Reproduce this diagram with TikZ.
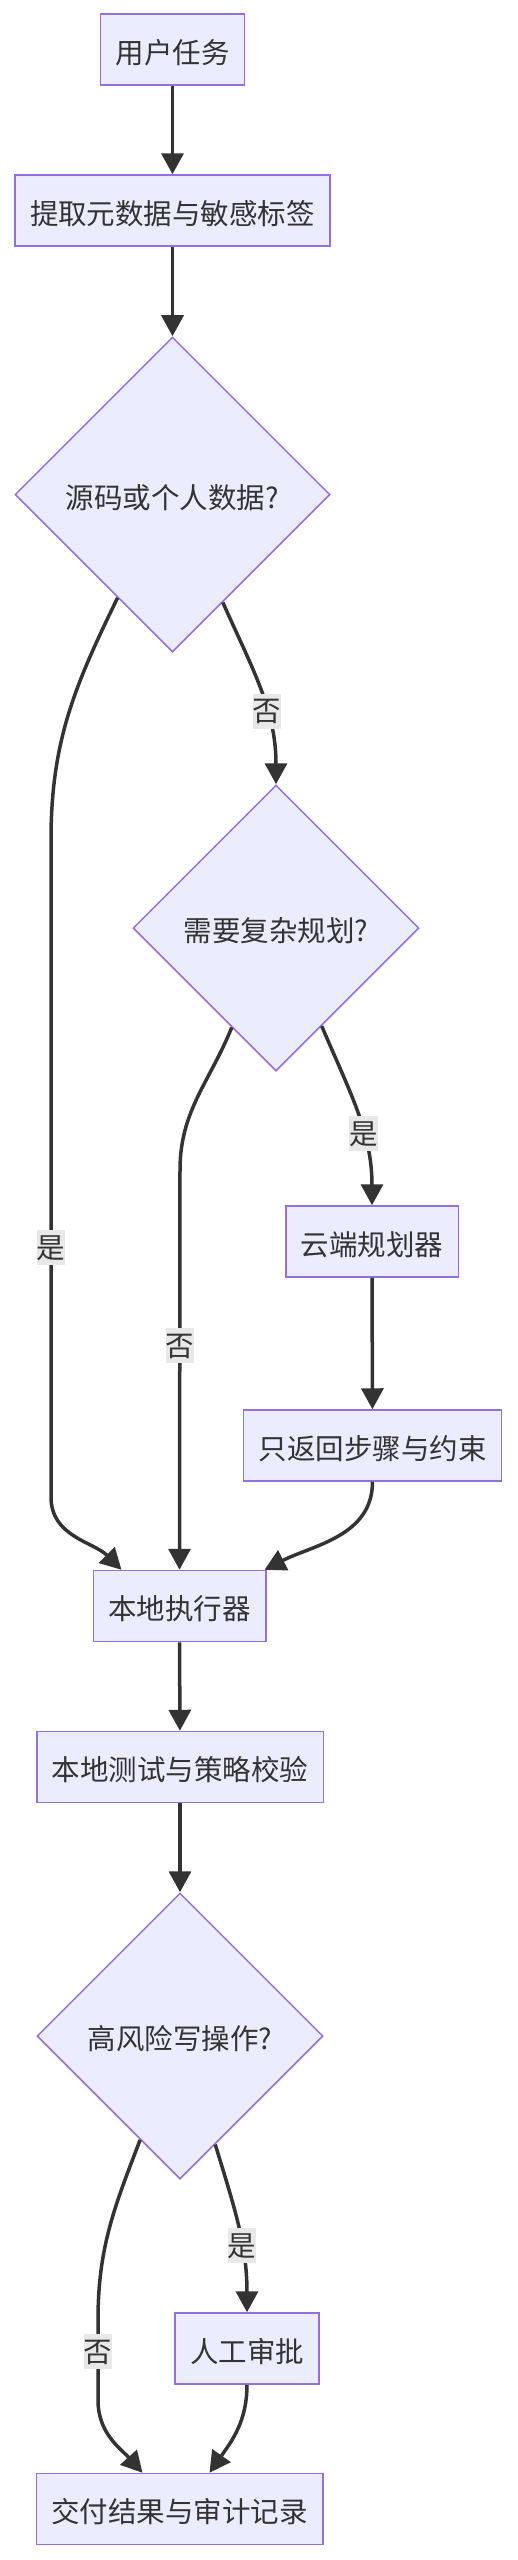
\documentclass[tikz,border=0pt]{standalone}
\usepackage{fontspec}
\newfontfamily\cjkfont{Noto Sans CJK SC}
\usetikzlibrary{shapes.geometric,arrows.meta}
\definecolor{boxfill}{HTML}{ECECFF}
\definecolor{boxline}{HTML}{9370DB}
\definecolor{ink}{HTML}{333333}
\definecolor{lblfill}{HTML}{E8E8E8}
\tikzset{
	box/.style={rectangle,draw=boxline,fill=boxfill,line width=1.5pt,text=ink,
		font=\cjkfont\fontsize{28.5pt}{34pt}\selectfont,inner xsep=15pt,
		minimum height=71pt,text height=28pt,text depth=1pt},
	decision/.style={diamond,aspect=1,inner sep=0pt,minimum width=#1,minimum height=#1},
	lbl/.style={fill=lblfill,text=ink,font=\cjkfont\fontsize{28.5pt}{34pt}\selectfont,
		inner sep=0pt,minimum width=28pt,minimum height=35pt,text height=25pt,text depth=3.4pt},
	flow/.style={draw=ink,line width=3.5pt}
}
\begin{document}
\begin{tikzpicture}[x=1pt,y=1pt,>={Triangle[width=22pt,length=21pt]}]
	\useasboundingbox (0,0) rectangle (517,-2560);
	\begin{scope}[every node/.style={box}]
		\node (task) at (172.5,-49.5) {用户任务};
		\node (meta) at (172.5,-210.5) {提取元数据与敏感标签};
		\node [decision=315pt] (d1) at (172.5,-494.5) {源码或个人数据?};
		\node [decision=286pt] (d2) at (276,-928) {需要复杂规划?};
		\node (plan) at (372,-1241.5) {云端规划器};
		\node (ret) at (372.5,-1445.5) {只返回步骤与约束};
		\node (exec) at (179.5,-1606) {本地执行器};
		\node (test) at (180,-1767) {本地测试与策略校验};
		\node [decision=286pt] (d3) at (180,-2036) {高风险写操作?};
		\node (appr) at (247,-2348.5) {人工审批};
		\node (fin) at (179.5,-2509) {交付结果与审计记录};
	\end{scope}
	
	\coordinate (yesA) at (51,-840);
	\coordinate (yesB) at (51,-1497);
	\coordinate (noA) at (180,-1170);
	\coordinate (noC) at (98,-2320);
	\coordinate (noD) at (98,-2400);
	
	\begin{scope}[every edge/.style={flow}]
		\path [->] (task) edge (meta);
		\path [->] (meta) edge (d1);
		\path [->] (d1.-65) edge [out=-66,in=90] node [lbl,pos=.62] {否} (d2.north);
		\path [->] (d2.-65) edge [out=-67,in=90] node [lbl,pos=.62] {是} (plan.north);
		\path [->] (plan) edge (ret);
		\path [->] (ret.south) edge [out=-90,in=27] ([xshift=-2pt]exec.north east);
		\path [->] (exec) edge (test);
		\path [->] (test) edge (d3);
		\path [->] (d3.-72) edge [out=-73,in=90] node [lbl,pos=.62] {是} (appr.north);
		\path [->] (appr.south) edge [out=-90,in=55] ([xshift=30pt]fin.north);
	\end{scope}
	\draw [->,flow] (d1.-118) to [out=-116,in=90] (yesA) -- node [lbl,pos=.62] {是} (yesB)
		to [out=-90,in=135] ([xshift=-58pt]exec.north);
	\draw [->,flow] (d2.-114) to [out=-112,in=90] (noA) -- node [lbl,pos=.44] {否} (exec.north);
	\draw [->,flow] (d3.-111) to [out=-111,in=90] (noC) -- node [lbl,pos=.39] {否} (noD)
		to [out=-90,in=132] ([xshift=-37pt]fin.north);
\end{tikzpicture}
\end{document}
